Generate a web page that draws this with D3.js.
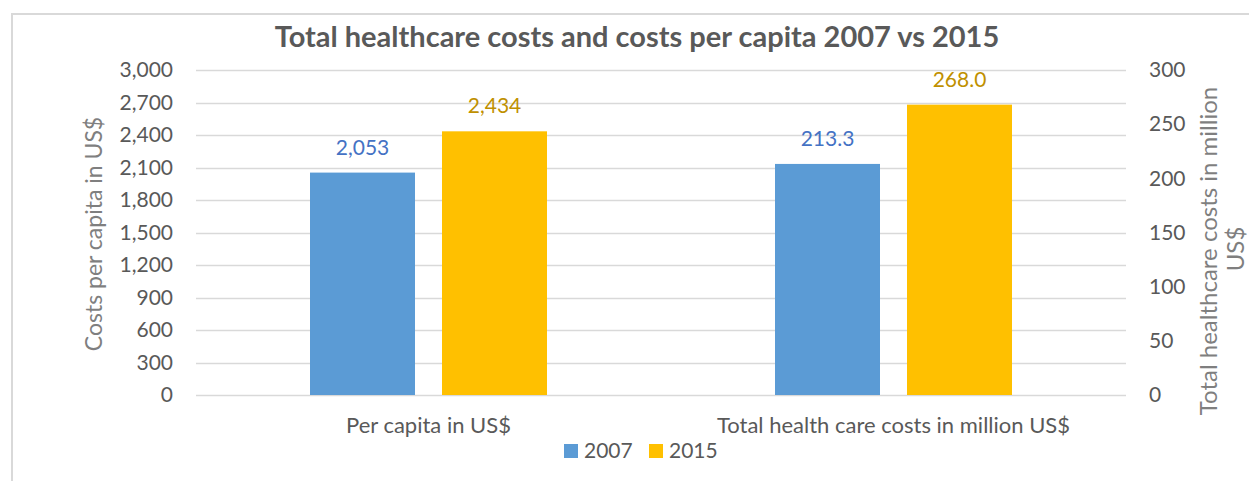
<!DOCTYPE html>
<html>
<head>
<meta charset="utf-8">
<script src="https://cdn.jsdelivr.net/npm/d3@7"></script>
<style>
  html, body { margin: 0; padding: 0; background: #fff; }
  svg { display: block; font-family: Lato, "Open Sans", sans-serif; }
</style>
</head>
<body>
<svg id="chart" width="1249" height="481"></svg>
<script>
// Chart data
const categories = ["Per capita in US$", "Total health care costs in million US$"];
const seriesNames = ["2007", "2015"];
const values2007 = [2053, 213.3];
const values2015 = [2434, 268.0];
const valueLabels2007 = ["2,053", "213.3"];
const valueLabels2015 = ["2,434", "268.0"];
const leftTicks = [0, 300, 600, 900, 1200, 1500, 1800, 2100, 2400, 2700, 3000];
const rightTicks = [0, 50, 100, 150, 200, 250, 300];

const barColors = ["#5B9BD5", "#FFC000"];
const labelColors = ["#4472C4", "#BF9000"];

const svg = d3.select("#chart");
const W = 1249, H = 481;
const plot = { left: 196, right: 1126, top: 70, bottom: 395 };

// Chart frame
svg.append("line").attr("x1", 12).attr("x2", W).attr("y1", 14).attr("y2", 14)
  .attr("stroke", "#d9d9d9").attr("stroke-width", 2);
svg.append("line").attr("x1", 12).attr("x2", 12).attr("y1", 13).attr("y2", H)
  .attr("stroke", "#d9d9d9").attr("stroke-width", 2);

// Scales: first category uses the left axis, second the right axis
const x0 = d3.scaleBand().domain(categories).range([plot.left, plot.right]).paddingInner(0).paddingOuter(0);
const yLeft = d3.scaleLinear().domain([0, 3000]).range([plot.bottom, plot.top]);
const yRight = d3.scaleLinear().domain([0, 300]).range([plot.bottom, plot.top]);
const yFor = i => (i === 0 ? yLeft : yRight);

// Gridlines
svg.append("g").selectAll("line").data(leftTicks).join("line")
  .attr("x1", plot.left).attr("x2", plot.right)
  .attr("y1", d => Math.round(yLeft(d)) + 0.5).attr("y2", d => Math.round(yLeft(d)) + 0.5)
  .attr("stroke", "#d9d9d9").attr("stroke-width", 1.5);

// Left axis
const axisL = svg.append("g").attr("transform", `translate(${plot.left},0)`)
  .call(d3.axisLeft(yLeft).tickValues(leftTicks).tickFormat(d3.format(",")).tickSize(0).tickPadding(23));
axisL.select(".domain").remove();
axisL.selectAll("text").attr("fill", "#595959").style("font-size", "21px").style("font-family", "Lato, sans-serif");

// Right axis
const axisR = svg.append("g").attr("transform", `translate(${plot.right},0)`)
  .call(d3.axisRight(yRight).tickValues(rightTicks).tickSize(0).tickPadding(23));
axisR.select(".domain").remove();
axisR.selectAll("text").attr("fill", "#595959").style("font-size", "21px").style("font-family", "Lato, sans-serif");

// Bars
const seriesData = [values2007, values2015];
const seriesLabels = [valueLabels2007, valueLabels2015];
const barW = 105, gap = 27;
const barX = (ci, si) => x0(categories[ci]) + x0.bandwidth() / 2 + (si === 0 ? -(gap / 2 + barW) : gap / 2);

seriesData.forEach((vals, si) => {
  const rows = vals.map((v, ci) => ({ v, ci, label: seriesLabels[si][ci] }));
  svg.append("g").selectAll("rect").data(rows).join("rect")
    .attr("x", d => barX(d.ci, si))
    .attr("width", barW)
    .attr("y", d => yFor(d.ci)(d.v))
    .attr("height", d => plot.bottom - yFor(d.ci)(d.v))
    .attr("fill", barColors[si]);
  svg.append("g").selectAll("text").data(rows).join("text")
    .attr("x", d => barX(d.ci, si) + barW / 2)
    .attr("y", d => yFor(d.ci)(d.v) - 18)
    .attr("text-anchor", "middle")
    .attr("fill", labelColors[si])
    .style("font-size", "21px")
    .text(d => d.label);
});

// Category labels
svg.append("g").selectAll("text").data(categories).join("text")
  .attr("x", d => x0(d) + x0.bandwidth() / 2)
  .attr("y", 433)
  .attr("text-anchor", "middle")
  .attr("fill", "#595959")
  .style("font-size", "22px")
  .text(d => d);

// Title
svg.append("text").attr("x", 637).attr("y", 47).attr("text-anchor", "middle")
  .attr("fill", "#595959").style("font-size", "29px").style("font-weight", "bold")
  .text("Total healthcare costs and costs per capita 2007 vs 2015");

// Axis titles
svg.append("text").attr("transform", `translate(102,234) rotate(-90)`)
  .attr("text-anchor", "middle").attr("fill", "#7f7f7f").style("font-size", "23px")
  .text("Costs per capita in US$");
const rt = svg.append("text").attr("transform", `translate(1217,251) rotate(-90)`)
  .attr("text-anchor", "middle").attr("fill", "#7f7f7f").style("font-size", "24px");
rt.append("tspan").attr("x", 0).attr("dy", 0).text("Total healthcare costs in million");
rt.append("tspan").attr("x", 2).attr("dy", 27).text("US$");

// Legend
const legend = svg.append("g").selectAll("g").data(seriesNames).join("g")
  .attr("transform", (d, i) => `translate(${564 + i * 85},444)`);
legend.append("rect").attr("width", 14).attr("height", 14).attr("fill", (d, i) => barColors[i]);
legend.append("text").attr("x", 20).attr("y", 14).attr("fill", "#595959").style("font-size", "21px")
  .text(d => d);
</script>
</body>
</html>
